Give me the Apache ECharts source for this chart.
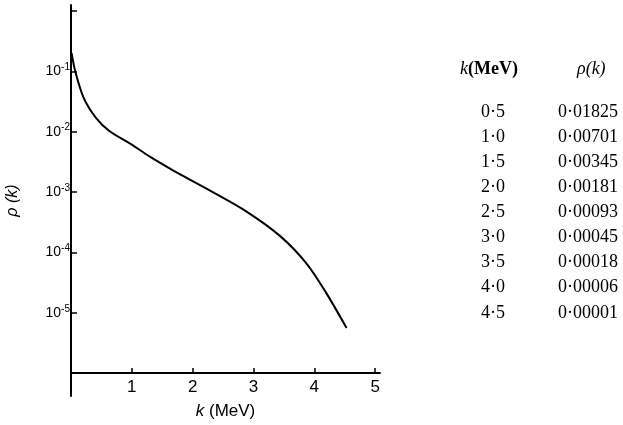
<!DOCTYPE html>
<html>
<head>
<meta charset="utf-8">
<script src="https://cdn.jsdelivr.net/npm/echarts@6/dist/echarts.min.js"></script>
<style>html,body{margin:0;padding:0;background:#fff;}#c{width:623px;height:425px;}</style>
</head>
<body>
<div id="c"></div>
<script>
// Curve
const curveK = [0.01, 0.07, 0.21, 0.41, 0.63, 0.98, 1.29, 1.64, 1.78, 2.33, 2.88, 3.43, 3.87, 4.20, 4.53];
const curveRho = [0.2, 0.1, 0.036, 0.017, 0.0103, 0.0063, 0.0039, 0.0024, 0.0020, 0.00100, 0.00048, 0.00019, 0.000066, 0.000021, 0.0000056];
// Axis ticks
const xTicks = [1, 2, 3, 4, 5];
const yTickMarks = [1, 1e-1, 1e-2, 1e-3, 1e-4, 1e-5];
const yTickLabels = [1e-1, 1e-2, 1e-3, 1e-4, 1e-5];
// Table on the right
const tableK = ['0·5', '1·0', '1·5', '2·0', '2·5', '3·0', '3·5', '4·0', '4·5'];
const tableRho = ['0·01825', '0·00701', '0·00345', '0·00181', '0·00093', '0·00045', '0·00018', '0·00006', '0·00001'];

const chart = echarts.init(document.getElementById('c'));
const sans = 'Liberation Sans';
const serif = 'Liberation Serif';

const graphics = [];
graphics.push({
  type: 'text', left: 460, top: 60,
  style: {
    text: '{i|k}{b|(MeV)}',
    rich: {
      i: {fontFamily: serif, fontStyle: 'italic', fontSize: 18, fill: '#000'},
      b: {fontFamily: serif, fontWeight: 'bold', fontSize: 18, fill: '#000'}
    }
  }
});
graphics.push({
  type: 'text', left: 577, top: 60,
  style: {text: 'ρ(k)', font: 'italic 18px "Liberation Serif"', fill: '#000'}
});
tableK.forEach((t, i) => {
  graphics.push({type: 'text', x: 493, y: 112 + i * 25.1,
    style: {text: t, font: '18px "Liberation Serif"', fill: '#000', align: 'center', verticalAlign: 'middle'}});
  graphics.push({type: 'text', x: 588, y: 112 + i * 25.1,
    style: {text: tableRho[i], font: '18px "Liberation Serif"', fill: '#000', align: 'center', verticalAlign: 'middle'}});
});

chart.setOption({
  animation: false,
  backgroundColor: '#fff',
  grid: {left: 71, right: 243, top: 5, bottom: 28, containLabel: false},
  xAxis: {
    type: 'value', min: 0, max: 5.08, interval: 1, offset: -23,
    name: '{i|k} (MeV)', nameLocation: 'middle', nameGap: 30,
    nameTextStyle: {
      fontFamily: sans, fontSize: 17, color: '#000',
      rich: {i: {fontFamily: sans, fontStyle: 'italic', fontSize: 17, color: '#000'}}
    },
    axisLine: {lineStyle: {color: '#000', width: 2}},
    axisTick: {inside: true, length: 5, lineStyle: {color: '#000', width: 1.5}, customValues: xTicks},
    axisLabel: {customValues: xTicks, color: '#000', fontFamily: sans, fontSize: 17, margin: 6},
    splitLine: {show: false}
  },
  yAxis: {
    type: 'log', logBase: 10, min: Math.pow(10, -6.378), max: Math.pow(10, 0.099),
    name: 'ρ ({i|k})', nameLocation: 'middle', nameGap: 50, nameRotate: 90,
    nameTextStyle: {
      fontFamily: sans, fontSize: 16, color: '#000', fontStyle: 'italic',
      rich: {i: {fontFamily: sans, fontStyle: 'italic', fontSize: 16, color: '#000'}}
    },
    axisLine: {lineStyle: {color: '#000', width: 2}},
    axisTick: {inside: true, length: 6, lineStyle: {color: '#000', width: 1.5}, customValues: yTickMarks},
    axisLabel: {
      customValues: yTickLabels, margin: 1,
      formatter: v => '{b|10}{s|' + Math.round(Math.log10(v)) + '}',
      rich: {
        b: {fontFamily: sans, fontSize: 14, color: '#000'},
        s: {fontFamily: sans, fontSize: 10, color: '#000', verticalAlign: 'top', padding: [0, 0, 8, 0]}
      }
    },
    splitLine: {show: false}
  },
  series: [{
    type: 'line',
    data: curveK.map((k, i) => [k, curveRho[i]]),
    smooth: 0.3,
    showSymbol: false,
    lineStyle: {color: '#000', width: 2}
  }],
  graphic: graphics
});
</script>
</body>
</html>
